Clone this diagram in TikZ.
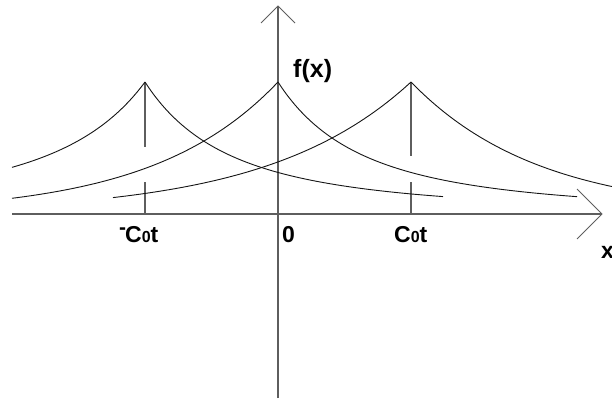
\documentclass[tikz,border=0pt]{standalone}
\usepackage{fontspec}
\setmainfont{Liberation Sans}
\usetikzlibrary{positioning}
\definecolor{wvAxis}{HTML}{5E5E5E}
\definecolor{wvInk}{HTML}{151515}
\tikzset{
  wvaxis/.style={draw=wvAxis, line width=1.2pt},
  wvhead/.style={draw=wvAxis, line width=1pt},
  wvtick/.style={draw=wvAxis, line width=1.1pt},
  wvcurve/.style={draw=wvInk, line width=0.9pt, samples=90, smooth},
  wvlabel/.style={inner sep=0pt, anchor=base west, text=black,
    font=\fontsize{23}{23}\selectfont\bfseries},
}
\newcommand{\wvsub}[1]{{\fontsize{16}{16}\selectfont #1}}
\newcommand{\wvminus}{\raisebox{8pt}{\fontsize{21}{21}\selectfont -}\kern-1pt}

\begin{document}
\begin{tikzpicture}[x=1pt, y=-1pt]
  \useasboundingbox (0,0) rectangle (612,405);

  % --- Axes ----------------------------------------------------------------
  \coordinate (xstart) at (12,214);
  \coordinate (xtip)   at (602,214);
  \coordinate (ytip)   at (278,6);
  \coordinate (yend)   at (278,398);
  \draw[wvaxis] (xstart) -- (xtip);
  \draw[wvaxis] (yend) -- (ytip);
  \draw[wvhead] (xtip) ++(-25,-25) -- (xtip) -- ++(-25,25);
  \draw[wvhead] (ytip) ++(-17,17) -- (ytip) -- ++(17,17);

  % --- Peaks and their markers ---------------------------------------------
  \coordinate (pkA) at (145,82);   % -C0t
  \coordinate (pkB) at (278,82);   % 0
  \coordinate (pkC) at (411,82);   % C0t
  \draw[wvtick] (pkA) -- ++(0,65);
  \draw[wvtick] (145,214) -- ++(0,-32);
  \draw[wvtick] (pkC) -- ++(0,74);
  \draw[wvtick] (411,214) -- ++(0,-32);

  % --- Curves (one per time shift) -----------------------------------------
  \draw[wvcurve, domain=12:145]  plot (\x, {214-132/(1+(145-\x)/195)^2});
  \draw[wvcurve, domain=145:443] plot (\x, {214-132/(1+(\x-145)/170)^2});
  \draw[wvcurve, domain=12:278]  plot (\x, {214-132*exp(-(278-\x)/125)});
  \draw[wvcurve, domain=278:577] plot (\x, {214-132/(1+(\x-278)/170)^2});
  \draw[wvcurve, domain=113:411] plot (\x, {214-132*exp(-(411-\x)/143)});
  \draw[wvcurve, domain=411:612] plot (\x, {214-132*exp(-(\x-411)/128)});

  % --- Labels --------------------------------------------------------------
  \node[wvlabel] (lblneg)  at (119,242) {\wvminus C\wvsub{0}t};
  \node[wvlabel] (lblzero) at (282,242) {0};
  \node[wvlabel] (lblpos)  at (394,242) {C\wvsub{0}t};
  \node[wvlabel, font=\fontsize{25}{25}\selectfont\bfseries] (lblf) at (293,77) {f(x)};
  \node[wvlabel] (lblx)    at (601,258) {x};

\end{tikzpicture}
\end{document}
